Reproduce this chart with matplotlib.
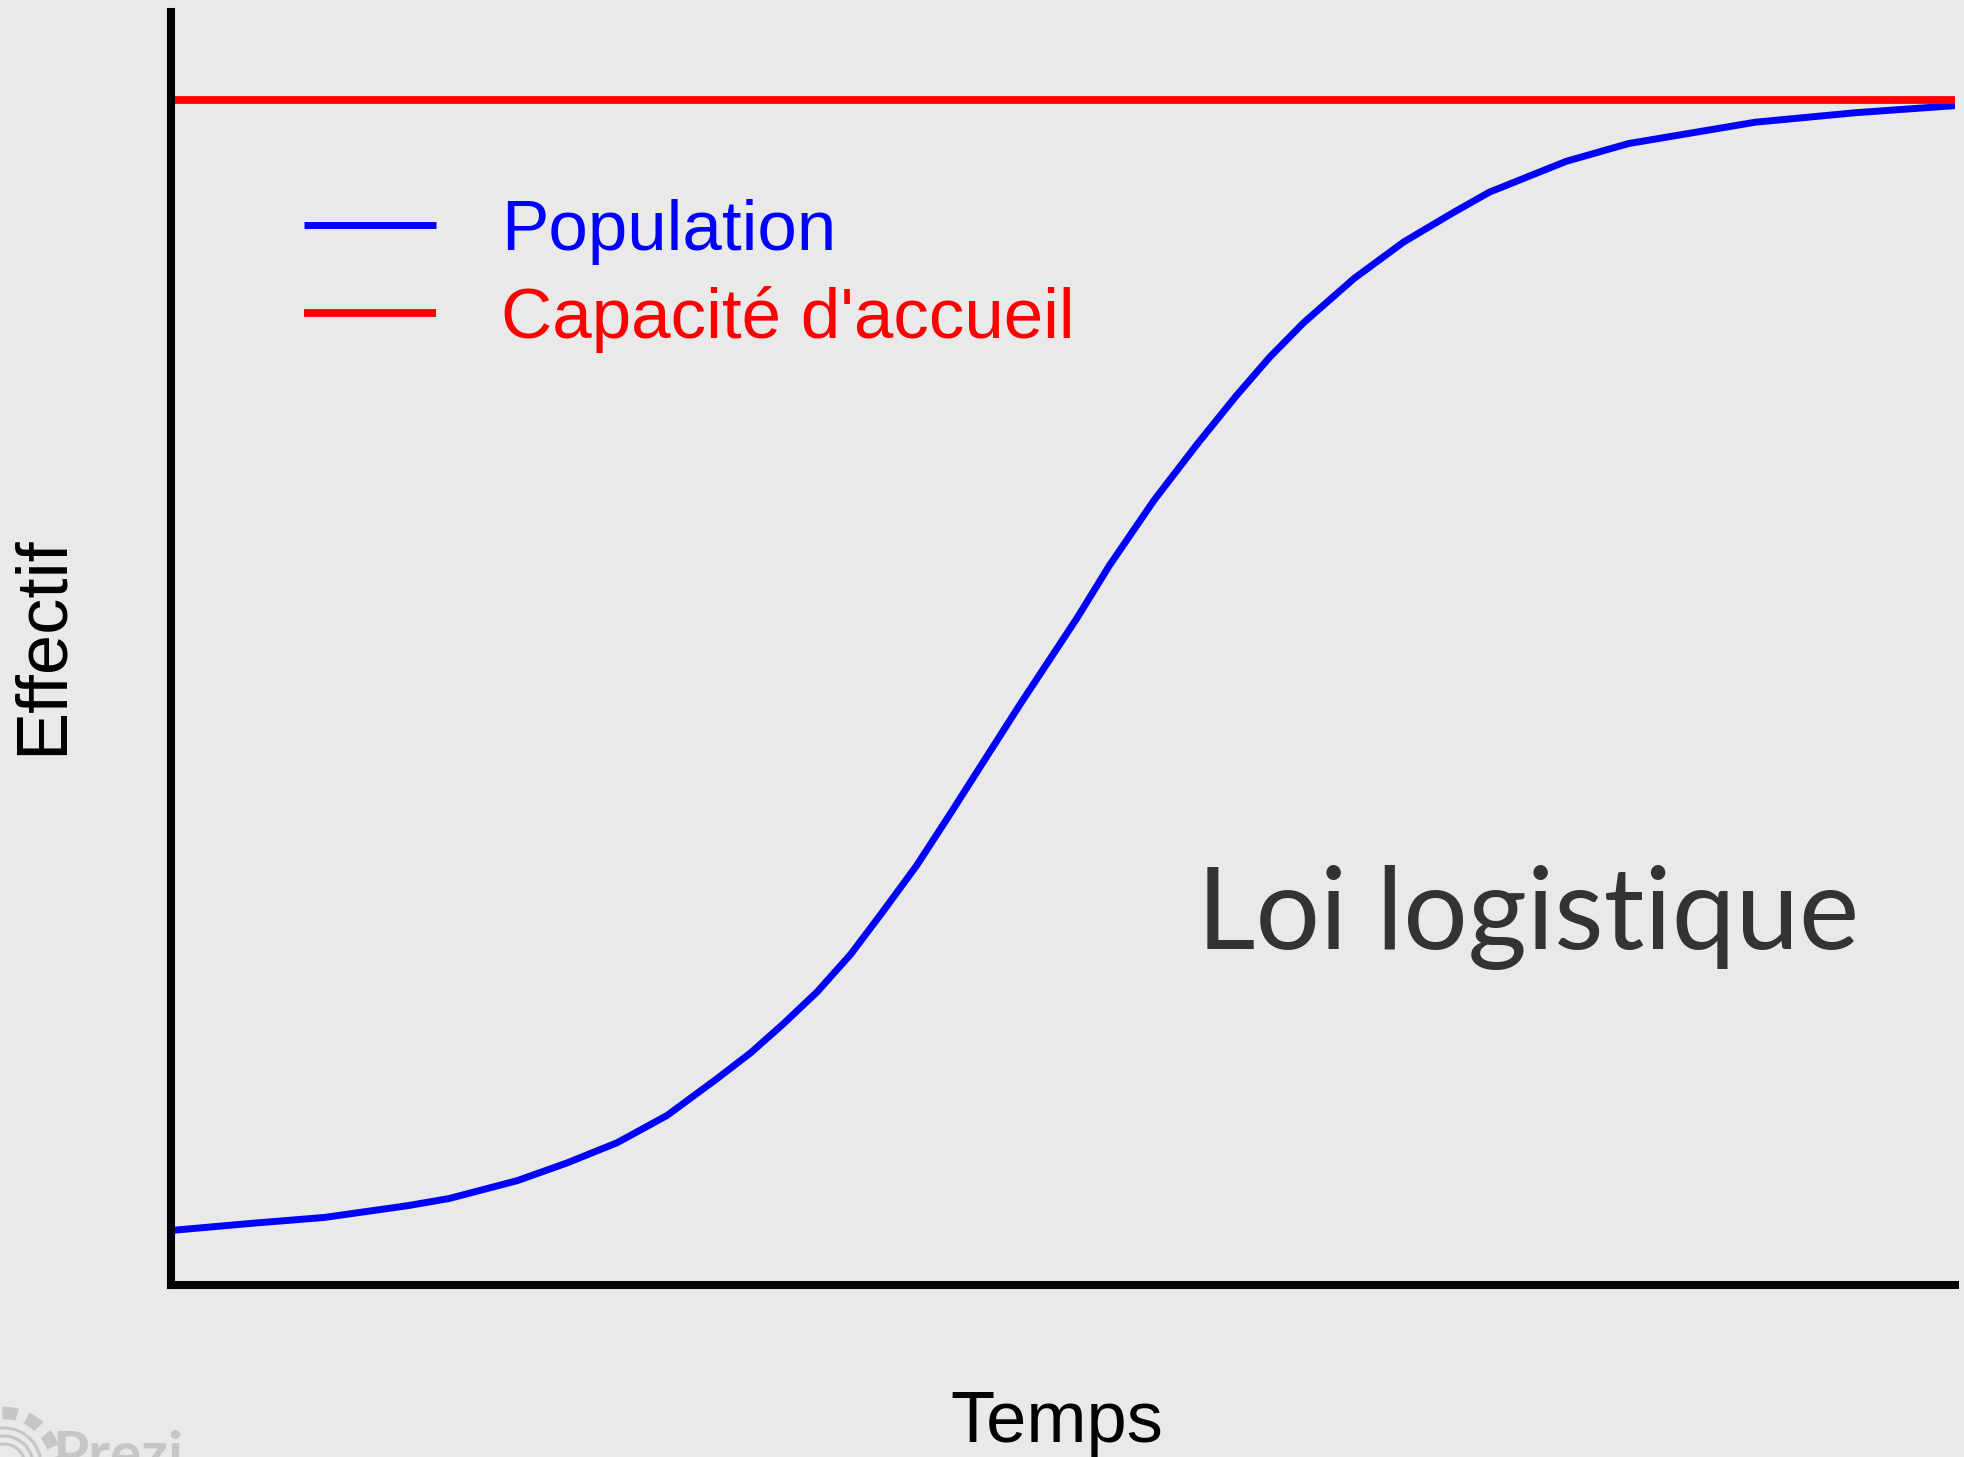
import matplotlib.pyplot as plt
from matplotlib.patches import Circle

# Lecture de la courbe sur l'image (temps en %, effectif avec K = 1000)
temps = [0, 4.5, 8.6, 13.3, 15.6, 19.4, 22.2, 25.0, 27.8, 30.6, 32.5, 34.3, 36.2,
         38.1, 39.9, 41.8, 43.7, 44.8, 47.6, 50.8, 52.6, 55.1, 57.5, 59.7, 61.6,
         63.5, 66.3, 69.1, 71.9, 73.9, 78.2, 81.7, 88.8, 94.4, 100]
effectif = [46, 52, 57, 67, 73, 88, 103, 120, 143, 174, 196, 220, 247,
            279, 315, 354, 398, 424, 490, 563, 607, 662, 709, 750, 783,
            812, 849, 880, 905, 922, 948, 963, 981, 989, 995]
capacite = 1000
t_limites = [0, 100]

fond = '#e9e9e9'
fig = plt.figure(figsize=(19.65, 14.57), dpi=100, facecolor=fond)
ax = fig.add_axes([171 / 1965, 1 - 1285 / 1457, (1955 - 171) / 1965, (1285 - 12) / 1457])
ax.set_facecolor(fond)

ax.plot(temps, effectif, color='#0000ff', linewidth=5, label='Population',
        solid_capstyle='butt', solid_joinstyle='round')
ax.plot(t_limites, [capacite, capacite], color='#ff0000', linewidth=5.6,
        label="Capacité d'accueil", solid_capstyle='butt')

ax.set_xlim(0, 100)
ax.set_ylim(0, 1074)
ax.set_xticks([])
ax.set_yticks([])
for s in ['top', 'right']:
    ax.spines[s].set_visible(False)
for s in ['left', 'bottom']:
    ax.spines[s].set_linewidth(5.8)
    ax.spines[s].set_color('black')
    ax.spines[s].set_capstyle('projecting')

police = ['Liberation Sans', 'DejaVu Sans']
ax.legend(loc='upper left', bbox_to_anchor=(304 / 1965, 1 - 199 / 1457),
          bbox_transform=fig.transFigure, frameon=False, labelcolor='linecolor',
          prop={'family': police, 'size': 51}, handlelength=1.86,
          handletextpad=0.92, labelspacing=0.3, borderpad=0, borderaxespad=0)

ax.set_xlabel('Temps', fontsize=52, family=police)
ax.xaxis.set_label_coords(1057 / 1965, 1 - 1390 / 1457, transform=fig.transFigure)
ax.set_ylabel('Effectif', fontsize=52, family=police)
ax.yaxis.set_label_coords(77 / 1965, 1 - 645 / 1457, transform=fig.transFigure)

fig.text(1197 / 1965, 1 - 949 / 1457, 'Loi logistique', fontsize=82,
         family=['Lato', 'DejaVu Sans'], fontweight='normal', color='#333333',
         ha='left', va='baseline')

# logo Prezi en bas a gauche, coupe par le bord
gris = '#c6c6c6'
fig.text(52 / 1965, 1 - 1430 / 1457, 'Prezi', fontsize=42, family=['Lato', 'DejaVu Sans'],
         fontweight='bold', color=gris, ha='left', va='top')
fig.patches.append(Circle((4, -8), 52, transform=None, fill=False, edgecolor=gris,
                          linewidth=9, linestyle=(0, (1.2, 0.8))))
for r in [37, 29, 21]:
    fig.patches.append(Circle((4, -8), r, transform=None, fill=False,
                              edgecolor=gris, linewidth=2.2))

fig.savefig('out.png', dpi=100, facecolor=fond)
